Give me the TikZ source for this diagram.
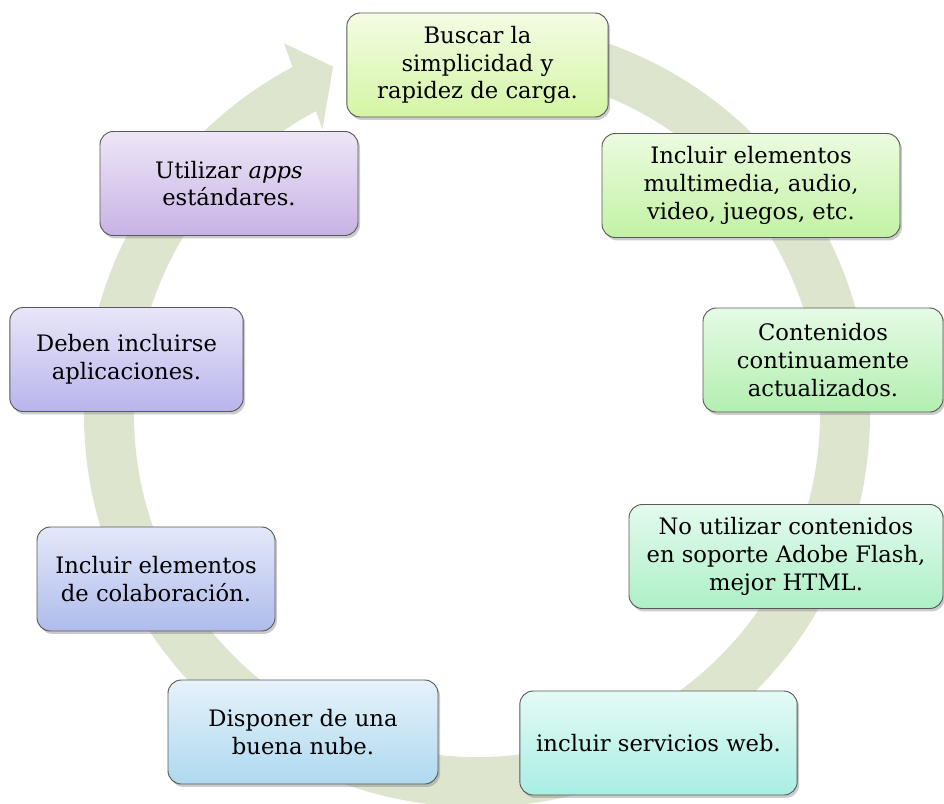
\documentclass[tikz,border=0pt]{standalone}
\usepackage{fontspec}
\setmainfont{DejaVu Serif}
\usetikzlibrary{shadows}
\definecolor{ringc}{RGB}{221,229,207}
\definecolor{t1}{HTML}{F4FCE4}\definecolor{b1}{HTML}{D4F5A4}
\definecolor{t2}{HTML}{ECFBE0}\definecolor{b2}{HTML}{C2F2A4}
\definecolor{t3}{HTML}{E6FAE6}\definecolor{b3}{HTML}{B2EFB0}
\definecolor{t4}{HTML}{E4FAEE}\definecolor{b4}{HTML}{ADF0C6}
\definecolor{t5}{HTML}{E4FAF6}\definecolor{b5}{HTML}{A9EEE2}
\definecolor{t6}{HTML}{E6F2FA}\definecolor{b6}{HTML}{AED9EF}
\definecolor{t7}{HTML}{E4E8F9}\definecolor{b7}{HTML}{AFBCEC}
\definecolor{t8}{HTML}{E8E6F8}\definecolor{b8}{HTML}{B9B4EC}
\definecolor{t9}{HTML}{EEE6F6}\definecolor{b9}{HTML}{C7B3E4}
\tikzset{
  box/.style={draw=black!65, line width=0.7pt, rounded corners=10pt,
    align=center, inner sep=2pt, minimum height=78pt,
    font=\fontsize{17}{20.8}\selectfont,
    drop shadow={shadow xshift=1.5pt, shadow yshift=-2.2pt, opacity=0.4}},
  ring/.style={fill=ringc}
}
\begin{document}
\begin{tikzpicture}[x=0.75pt,y=0.75pt]
\useasboundingbox (0,0) rectangle (944,-803);
\coordinate (c) at (477,-414);
% circular arrow
\fill[ring] ([shift={(c)}]85:393) arc[start angle=85, end angle=-242, radius=393]
  -- ([shift={(c)}]117.5:418) -- ([shift={(c)}]112.5:376) -- ([shift={(c)}]118.5:324)
  -- ([shift={(c)}]118:343) arc[start angle=118, end angle=445, radius=343] -- cycle;
% boxes
\node[box, minimum width=196pt, top color=t1, bottom color=b1] (n1) at (477.5,-65) {Buscar la\\simplicidad y\\rapidez de carga.};
\node[box, minimum width=223.5pt, top color=t2, bottom color=b2] (n2) at (751,-185.5) {Incluir elementos\\multimedia, audio,\\video, juegos, etc.};
\node[box, minimum width=180pt, top color=t3, bottom color=b3] (n3) at (823,-360) {Contenidos\\continuamente\\actualizados.};
\node[box, minimum width=235.5pt, top color=t4, bottom color=b4] (n4) at (786,-556.5) {No utilizar contenidos\\en soporte Adobe Flash,\\mejor HTML.};
\node[box, minimum width=208pt, top color=t5, bottom color=b5] (n5) at (658.5,-743) {incluir servicios web.};
\node[box, minimum width=202.5pt, top color=t6, bottom color=b6] (n6) at (303,-732) {Disponer de una\\buena nube.};
\node[box, minimum width=178.5pt, top color=t7, bottom color=b7] (n7) at (156,-579) {Incluir elementos\\de colaboración.};
\node[box, minimum width=175pt, top color=t8, bottom color=b8] (n8) at (126.5,-359.5) {Deben incluirse\\aplicaciones.};
\node[box, minimum width=193.5pt, top color=t9, bottom color=b9] (n9) at (229,-183.5) {Utilizar \emph{apps}\\estándares.};
\end{tikzpicture}
\end{document}
